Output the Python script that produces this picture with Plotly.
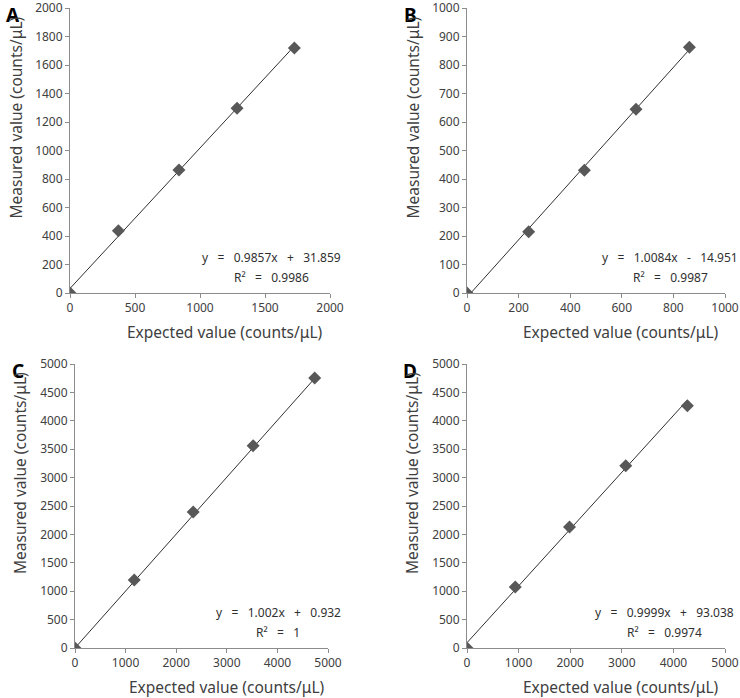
import plotly.graph_objects as go

# ---- data ----
panel_labels = ["A", "B", "C", "D"]
expected_A = [0, 372, 838, 1285, 1726]
measured_A = [0, 436, 863, 1297, 1719]
expected_B = [0, 239, 455, 655, 862]
measured_B = [0, 215, 431, 645, 862]
expected_C = [0, 1171, 2336, 3520, 4737]
measured_C = [0, 1197, 2394, 3562, 4754]
expected_D = [0, 935, 1987, 3077, 4271]
measured_D = [0, 1074, 2130, 3210, 4266]
slopes = [0.9857, 1.0084, 1.002, 0.9999]
intercepts = [31.859, -14.951, 0.932, 93.038]
equations = ["y = 0.9857x + 31.859", "y = 1.0084x - 14.951", "y = 1.002x + 0.932", "y = 0.9999x + 93.038"]
r2_texts = ["R² = 0.9986", "R² = 0.9987", "R² = 1", "R² = 0.9974"]
axis_max = [2000, 1000, 5000, 5000]
axis_dtick = [500, 200, 1000, 1000]
y_dtick = [200, 100, 500, 500]
x_title = "Expected value (counts/μL)"
y_title = "Measured value (counts/μL)"

expected = [expected_A, expected_B, expected_C, expected_D]
measured = [measured_A, measured_B, measured_C, measured_D]

W, H = 740, 698
FONT = "Noto Sans"
NB = "\u00a0"
# plot areas in pixels: (left, right, top, bottom)
boxes = [(70, 330, 8, 293), (467, 725, 8, 293), (75, 328, 364, 648), (467, 725, 364, 648)]
# centre of the equation block, measured from the plot's right edge
eq_offsets = [59, 55, 50, 61]

fig = go.Figure()
layout = dict(width=W, height=H, margin=dict(l=0, r=0, t=0, b=0, autoexpand=False),
              paper_bgcolor="white", plot_bgcolor="white", showlegend=False,
              font=dict(family=FONT, color="#404040"))
annotations = []


def ann(text, px, py, size, color="#404040", angle=0):
    return dict(text=text, x=px / W, y=1 - py / H, xref="paper", yref="paper",
                xanchor="center", yanchor="middle", showarrow=False, textangle=angle,
                font=dict(size=size, color=color, family=FONT))


def wide(s):
    return s.replace(" ", NB * 3)


for i in range(4):
    xa = "x" if i == 0 else f"x{i+1}"
    ya = "y" if i == 0 else f"y{i+1}"
    l, r, t, b = boxes[i]
    xs = expected[i]
    fit_x = [0, max(xs)]
    fit_y = [slopes[i] * v + intercepts[i] for v in fit_x]
    fig.add_trace(go.Scatter(x=fit_x, y=fit_y, mode="lines", xaxis=xa, yaxis=ya,
                             line=dict(color="#303030", width=1), hoverinfo="skip"))
    fig.add_trace(go.Scatter(x=xs, y=measured[i], mode="markers", xaxis=xa, yaxis=ya,
                             marker=dict(symbol="diamond", size=10, color="#585858")))
    axcommon = dict(showgrid=False, zeroline=False, showline=True, linecolor="#8c8c8c",
                    linewidth=1, ticks="outside", ticklen=4, tickcolor="#8c8c8c",
                    automargin=False, ticklabeloverflow="allow",
                    tickfont=dict(size=12, color="#404040", family=FONT))
    layout["xaxis" if i == 0 else f"xaxis{i+1}"] = dict(
        axcommon, domain=[l / W, r / W], range=[0, axis_max[i]], dtick=axis_dtick[i],
        anchor=ya)
    layout["yaxis" if i == 0 else f"yaxis{i+1}"] = dict(
        axcommon, domain=[1 - b / H, 1 - t / H], range=[0, axis_max[i]], dtick=y_dtick[i],
        anchor=xa)
    annotations.append(ann(f"<b>{panel_labels[i]}</b>", l - 57, t + 7, 19, "black"))
    annotations.append(ann(x_title, (l + r) / 2 + 25, b + 39, 15.5))
    annotations.append(ann(y_title, l - 55, (t + b) / 2 - 33, 15.5, angle=-90))
    annotations.append(ann(wide(equations[i]), r - eq_offsets[i], b - 36, 12, "#303030"))
    annotations.append(ann(wide(r2_texts[i]), r - eq_offsets[i], b - 16, 12, "#303030"))

layout["annotations"] = annotations
fig.update_layout(**layout)
fig.write_html("out.html", config={"displayModeBar": False},
               post_script="document.body.style.margin='0px';")
